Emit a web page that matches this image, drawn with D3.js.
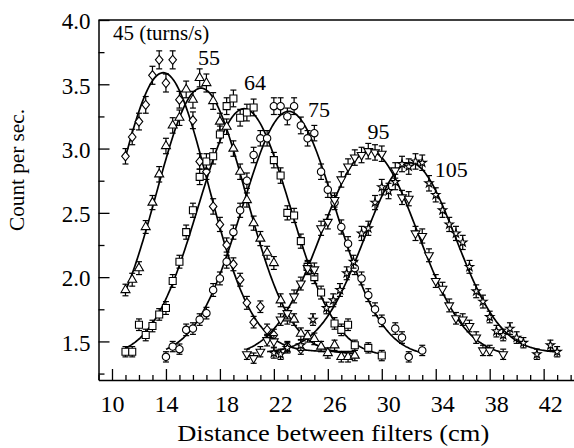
<!DOCTYPE html>
<html><head><meta charset="utf-8">
<script src="https://cdn.jsdelivr.net/npm/d3@7"></script>
<style>
body{margin:0;background:#fff;}
svg{display:block;}
text{font-family:"Liberation Serif","Times New Roman",serif;fill:#000;}
</style>
</head><body>
<svg id="c" width="574" height="448"></svg>
<script>
// ---- data ----
const seriesNames = ["45", "55", "64", "75", "95", "105"];
const labelTexts = ["45 (turns/s)", "55", "64", "75", "95", "105"];
const xTickValues = [10, 14, 18, 22, 26, 30, 34, 38, 42];
const yTickValues = [1.5, 2.0, 2.5, 3.0, 3.5, 4.0];
const xMinorTicks = [9,11,12,13,15,16,17,19,20,21,23,24,25,27,28,29,31,32,33,35,36,37,39,40,41,43,44];
const yMinorTicks = [1.25, 1.75, 2.25, 2.75, 3.25, 3.75];
const xTitle = "Distance between filters (cm)";
const yTitle = "Count per sec.";

// [distance, count, error]
const s45 = [[11.0,2.94,.06],[11.5,3.09,.06],[12.0,3.21,.065],[12.5,3.34,.065],[13.0,3.57,.07],[13.5,3.69,.07],[14.0,3.51,.07],[14.5,3.69,.07],[15.0,3.38,.065],[16.0,3.22,.065],[16.5,2.90,.06],[17.0,2.82,.06],[17.5,2.55,.06],[18.0,2.41,.055],[18.5,2.25,.055],[19.0,2.10,.05],[19.5,1.98,.05],[20.0,1.80,.05],[20.5,1.65,.045],[21.0,1.77,.045],[21.5,1.59,.045],[22.0,1.55,.045],[23.0,1.46,.04],[24.0,1.44,.04]];
const s55 = [[11.0,1.90,.045],[11.5,1.98,.05],[12.0,2.07,.05],[12.5,2.39,.05],[13.0,2.58,.055],[13.5,2.80,.06],[14.0,3.02,.06],[14.5,3.18,.06],[15.0,3.24,.06],[15.5,3.46,.065],[16.0,3.38,.065],[16.5,3.55,.07],[17.0,3.51,.07],[17.5,3.37,.065],[18.0,3.21,.065],[18.5,3.17,.06],[19.0,3.00,.06],[19.5,2.82,.06],[20.0,2.60,.055],[20.5,2.42,.055],[21.0,2.30,.055],[21.5,2.19,.05],[22.0,2.11,.05],[22.5,1.82,.05],[23.0,1.68,.045],[23.5,1.67,.045],[24.0,1.56,.045],[24.5,1.54,.045],[25.0,1.52,.045],[25.5,1.46,.04],[26.0,1.41,.04],[26.5,1.47,.04],[27.0,1.38,.04],[27.5,1.38,.04],[28.0,1.39,.04]];
const s64 = [[11.0,1.42,.04],[11.5,1.42,.04],[12.0,1.63,.045],[12.5,1.55,.045],[13.0,1.62,.045],[13.5,1.71,.045],[14.0,1.76,.05],[14.5,1.97,.05],[15.0,2.12,.05],[15.5,2.35,.055],[16.0,2.52,.055],[16.5,2.78,.06],[17.0,2.90,.06],[17.5,2.94,.06],[18.0,3.11,.065],[18.5,3.33,.065],[19.0,3.39,.065],[19.5,3.24,.065],[20.0,3.28,.065],[20.5,3.32,.065],[22.0,2.91,.06],[22.5,2.79,.06],[23.0,2.50,.055],[23.5,2.48,.055],[24.0,2.28,.055],[24.5,2.08,.05],[25.0,2.00,.05],[25.5,1.88,.05],[26.5,1.64,.045],[27.0,1.59,.045],[27.5,1.63,.045],[28.0,1.47,.04],[29.0,1.45,.04],[30.0,1.39,.04]];
const s75 = [[14.0,1.38,.04],[14.5,1.46,.04],[15.0,1.44,.04],[15.5,1.59,.045],[16.0,1.60,.045],[16.5,1.67,.045],[17.0,1.72,.045],[17.5,1.90,.05],[18.0,1.99,.05],[18.5,2.12,.05],[19.0,2.35,.055],[19.5,2.52,.055],[20.0,2.75,.06],[20.5,2.95,.06],[21.0,3.08,.06],[21.5,3.08,.06],[22.0,3.33,.065],[22.5,3.33,.065],[23.0,3.25,.065],[23.5,3.33,.065],[24.0,3.18,.065],[24.5,3.08,.06],[25.0,3.12,.06],[25.5,2.82,.06],[26.0,2.68,.06],[26.5,2.58,.055],[27.0,2.39,.055],[27.5,2.26,.055],[28.0,2.07,.05],[28.5,1.99,.05],[29.0,1.86,.05],[29.5,1.75,.05],[30.0,1.66,.045],[31.0,1.60,.045],[31.5,1.53,.045],[32.0,1.38,.04],[33.0,1.43,.04]];
const s95 = [[20.0,1.40,.04],[20.5,1.37,.04],[21.0,1.42,.04],[21.5,1.51,.045],[22.0,1.50,.045],[22.5,1.67,.045],[23.0,1.72,.045],[23.5,1.85,.05],[24.0,1.95,.05],[24.5,2.07,.05],[25.0,2.06,.05],[25.5,2.38,.055],[26.0,2.43,.055],[26.5,2.60,.055],[27.0,2.76,.06],[27.5,2.86,.06],[28.0,2.93,.06],[28.5,2.95,.06],[29.0,2.98,.06],[29.5,2.97,.06],[30.0,2.96,.06],[31.0,2.83,.06],[31.5,2.62,.055],[32.0,2.61,.055],[32.5,2.34,.055],[33.0,2.32,.055],[33.5,2.17,.05],[34.0,1.97,.05],[34.5,1.91,.05],[35.0,1.78,.05],[35.5,1.68,.045],[36.0,1.67,.045],[36.5,1.62,.045],[37.0,1.53,.045],[37.5,1.43,.04],[38.0,1.43,.04],[39.0,1.40,.04]];
const s105 = [[22.0,1.41,.04],[22.5,1.40,.04],[23.0,1.45,.04],[24.0,1.47,.04],[24.9,1.67,.045],[25.9,1.76,.045],[26.4,1.82,.05],[26.9,1.90,.05],[27.4,2.03,.05],[27.9,2.12,.05],[28.5,2.34,.055],[29.0,2.38,.055],[29.5,2.58,.055],[30.0,2.70,.06],[30.5,2.67,.06],[31.0,2.74,.06],[31.5,2.88,.06],[32.0,2.86,.06],[32.5,2.90,.06],[33.0,2.89,.06],[33.5,2.73,.06],[34.0,2.64,.055],[34.5,2.52,.055],[35.0,2.41,.055],[35.5,2.34,.055],[36.0,2.27,.055],[36.5,2.08,.05],[37.0,1.89,.05],[37.5,1.81,.05],[38.0,1.69,.045],[38.5,1.58,.045],[39.0,1.55,.045],[39.5,1.60,.045],[40.0,1.53,.045],[40.5,1.49,.04],[41.5,1.40,.04],[42.5,1.47,.04],[43.0,1.42,.04]];
const seriesData = [s45, s55, s64, s75, s95, s105];

// Gaussian fit parameters (baseline, amplitude, centre, width, x-range)
const fitBase   = [1.42, 1.40, 1.38, 1.38, 1.38, 1.41];
const fitAmp    = [2.17, 2.07, 1.93, 1.91, 1.60, 1.48];
const fitCenter = [13.8, 16.6, 19.8, 23.1, 29.1, 32.1];
const fitSigma  = [3.3, 3.3, 3.4, 3.45, 3.55, 3.37];
const fitFrom   = [11, 11, 11, 14, 20, 21.5];
const fitTo     = [28, 28, 30, 33, 39, 43];

// label anchors in data coordinates
const labelX = [10.07, 17.19, 20.6, 25.34, 29.75, 33.93];
const labelY = [3.845, 3.65, 3.456, 3.246, 3.074, 2.781];
const labelAnchor = ["start", "middle", "middle", "middle", "middle", "start"];

// ---- layout ----
const svg = d3.select("#c");
const x = d3.scaleLinear().domain([9, 44.25]).range([98.5, 574]);
const y = d3.scaleLinear().domain([1.2, 4.0]).range([380, 20]);

// symbols
const diamond = { draw(c) { c.moveTo(0,-4.6); c.lineTo(3.8,0); c.lineTo(0,4.6); c.lineTo(-3.8,0); c.closePath(); } };
const symbolSpecs = [
  {type: diamond, size: 1, rot: 0},
  {type: d3.symbolTriangle, size: 35, rot: 0},
  {type: d3.symbolSquare, size: 49, rot: 0},
  {type: d3.symbolCircle, size: 43, rot: 0},
  {type: d3.symbolTriangle, size: 33, rot: 180},
  {type: d3.symbolStar, size: 22, rot: 0}
];

// axes
const gx = svg.append("g").attr("transform", "translate(0,380)")
  .call(d3.axisBottom(x).tickValues(xTickValues).tickSizeInner(-11).tickSizeOuter(0).tickPadding(15).tickFormat(d3.format("d")));
gx.select(".domain").attr("stroke-width", 1.5);
gx.selectAll(".tick line").attr("stroke-width", 1.3);
gx.attr("font-family", null).attr("font-size", 24);
gx.selectAll(".tick text").attr("dx", d => d >= 18 ? 6.5 : 0);

const gxm = svg.append("g").attr("transform", "translate(0,380)")
  .call(d3.axisBottom(x).tickValues(xMinorTicks).tickSizeInner(-5).tickSizeOuter(0).tickFormat(""));
gxm.select(".domain").remove();
gxm.selectAll(".tick line").attr("stroke-width", 1.3);

const gy = svg.append("g").attr("transform", "translate(98.5,0)")
  .call(d3.axisLeft(y).tickValues(yTickValues).tickSizeInner(-11).tickSizeOuter(0).tickPadding(8).tickFormat(d3.format(".1f")));
gy.select(".domain").attr("stroke-width", 1.5);
gy.selectAll(".tick line").attr("stroke-width", 1.3);
gy.attr("font-family", null).attr("font-size", 23);
gy.selectAll(".tick text").attr("dy", "0.38em");

const gym = svg.append("g").attr("transform", "translate(98.5,0)")
  .call(d3.axisLeft(y).tickValues(yMinorTicks).tickSizeInner(-6).tickSizeOuter(0).tickFormat(""));
gym.select(".domain").remove();
gym.selectAll(".tick line").attr("stroke-width", 1.3);

// top frame line
svg.append("line").attr("x1", x(9)).attr("x2", x(44.25)).attr("y1", y(4.0)).attr("y2", y(4.0))
  .attr("stroke", "#000").attr("stroke-width", 1.5);

// axis titles
svg.append("text").attr("x", x(26.4)).attr("y", 441).attr("text-anchor", "middle")
  .attr("font-size", 23).attr("textLength", 312).attr("lengthAdjust", "spacingAndGlyphs").text(xTitle);
svg.append("text").attr("transform", "translate(24," + 170 + ") rotate(-90)").attr("text-anchor", "middle")
  .attr("font-size", 21).attr("textLength", 122).attr("lengthAdjust", "spacingAndGlyphs").text(yTitle);

// fit curves
const line = d3.line().x(d => x(d[0])).y(d => y(d[1])).curve(d3.curveLinear);
seriesNames.forEach((n, i) => {
  const pts = d3.range(fitFrom[i], fitTo[i] + 0.001, 0.1).map(t =>
    [t, fitBase[i] + fitAmp[i] * Math.exp(-((t - fitCenter[i]) ** 2) / (2 * fitSigma[i] ** 2))]);
  svg.append("path").datum(pts).attr("d", line).attr("fill", "none")
    .attr("stroke", "#000").attr("stroke-width", 1.7);
});

// error bars + markers
seriesData.forEach((data, i) => {
  const g = svg.append("g");
  const eb = g.selectAll(".eb").data(data).enter().append("g");
  eb.append("line").attr("x1", d => x(d[0])).attr("x2", d => x(d[0]))
    .attr("y1", d => y(d[1] - d[2])).attr("y2", d => y(d[1] + d[2]))
    .attr("stroke", "#000").attr("stroke-width", 1.2);
  [-1, 1].forEach(s => {
    eb.append("line").attr("x1", d => x(d[0]) - 3).attr("x2", d => x(d[0]) + 3)
      .attr("y1", d => y(d[1] + s * d[2])).attr("y2", d => y(d[1] + s * d[2]))
      .attr("stroke", "#000").attr("stroke-width", 1.2);
  });
  const spec = symbolSpecs[i];
  g.selectAll(".m").data(data).enter().append("path")
    .attr("d", d3.symbol().type(spec.type).size(spec.size))
    .attr("transform", d => `translate(${x(d[0])},${y(d[1])}) rotate(${spec.rot})`)
    .attr("fill", "#fff").attr("stroke", "#000").attr("stroke-width", 1.1);
});

// series labels
labelTexts.forEach((t, i) => {
  svg.append("text").attr("x", x(labelX[i])).attr("y", y(labelY[i]))
    .attr("text-anchor", labelAnchor[i]).attr("font-size", i === 0 ? 21 : 22).text(t);
});
</script>
</body></html>
